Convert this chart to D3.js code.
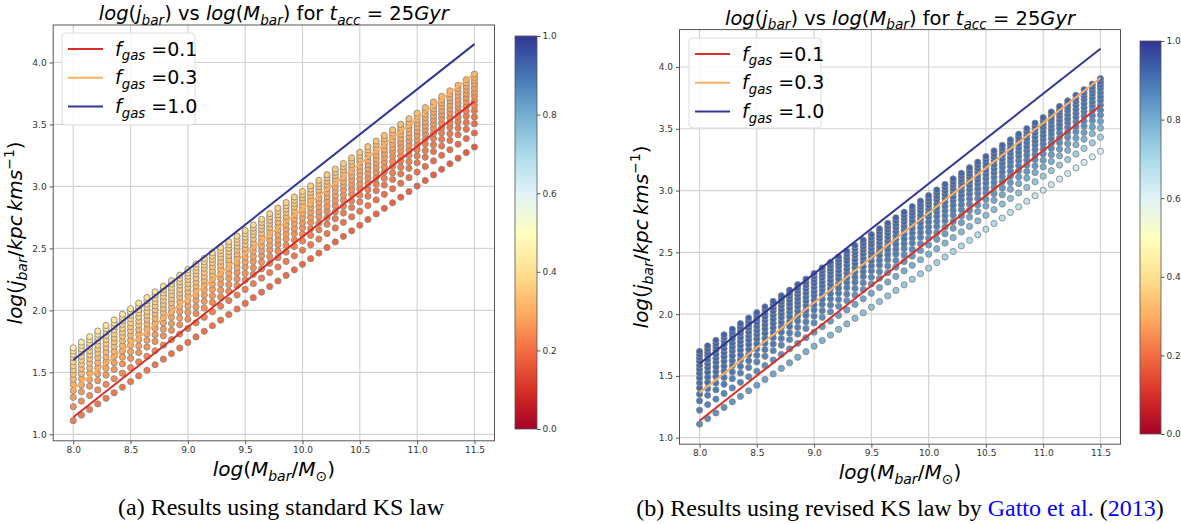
<!DOCTYPE html>
<html>
<head>
<meta charset="utf-8">
<script src="https://cdn.jsdelivr.net/npm/d3@7"></script>
<style>
  body { margin: 0; background: #fff; }
  text { white-space: pre; }
</style>
</head>
<body>
<div id="chart"></div>
<script>
const svgWidth = 1181;
const svgHeight = 524;

// column positions, log(M_bar)
const xCols = [8.000, 8.071, 8.143, 8.214, 8.286, 8.357, 8.429, 8.500, 8.571, 8.643,
               8.714, 8.786, 8.857, 8.929, 9.000, 9.071, 9.143, 9.214, 9.286, 9.357,
               9.429, 9.500, 9.571, 9.643, 9.714, 9.786, 9.857, 9.929, 10.000, 10.071,
               10.143, 10.214, 10.286, 10.357, 10.429, 10.500, 10.571, 10.643, 10.714, 10.786,
               10.857, 10.929, 11.000, 11.071, 11.143, 11.214, 11.286, 11.357, 11.429, 11.500];
// lowest point of each column, log(j_bar)
const colBase = [1.110, 1.155, 1.200, 1.245, 1.290, 1.335, 1.380, 1.425, 1.471, 1.516,
                 1.561, 1.606, 1.651, 1.696, 1.741, 1.786, 1.831, 1.876, 1.921, 1.966,
                 2.011, 2.056, 2.102, 2.147, 2.192, 2.237, 2.282, 2.327, 2.372, 2.417,
                 2.462, 2.507, 2.552, 2.597, 2.642, 2.687, 2.733, 2.778, 2.823, 2.868,
                 2.913, 2.958, 3.003, 3.048, 3.093, 3.138, 3.183, 3.228, 3.273, 3.318];
// rows above the lowest point inside a column
const rowOffsets = [0, 0.113, 0.188, 0.242, 0.293, 0.334, 0.374, 0.411, 0.443, 0.475, 0.508, 0.535, 0.562, 0.588];

// colour value of each row at the first and last column
const colorStartA = [0.22, 0.25, 0.27, 0.29, 0.30, 0.32, 0.33, 0.35, 0.36, 0.37, 0.39, 0.40, 0.41, 0.43];
const colorEndA   = [0.17, 0.19, 0.20, 0.21, 0.22, 0.23, 0.24, 0.25, 0.26, 0.27, 0.28, 0.29, 0.30, 0.31];
const colorStartB = [0.86, 0.88, 0.89, 0.90, 0.91, 0.91, 0.92, 0.92, 0.92, 0.92, 0.93, 0.93, 0.93, 0.93];
const colorEndB   = [0.62, 0.72, 0.78, 0.82, 0.85, 0.87, 0.88, 0.89, 0.90, 0.90, 0.91, 0.91, 0.92, 0.92];

// f_gas reference lines
const lineFgas = ["0.1", "0.3", "1.0"];
const lineCval = [0.1, 0.3, 1.0];
const lineX = [8.0, 11.5];
const lineY = [[1.137, 3.688], [1.365, 3.911], [1.599, 4.148]];

const xTicks = [8.0, 8.5, 9.0, 9.5, 10.0, 10.5, 11.0, 11.5];
const yTicks = [1.0, 1.5, 2.0, 2.5, 3.0, 3.5, 4.0];
const cbTicks = [0.0, 0.2, 0.4, 0.6, 0.8, 1.0];

// matplotlib RdYlBu
const rdylbu = d3.scaleLinear()
    .domain(d3.range(11).map(i => i / 10))
    .range(["#a50026","#d73027","#f46d43","#fdae61","#fee090","#ffffbf",
            "#e0f3f8","#abd9e9","#74add1","#4575b4","#313695"])
    .clamp(true);

const svg = d3.select("#chart").append("svg")
    .attr("width", svgWidth)
    .attr("height", svgHeight)
    .style("font-family", "DejaVu Sans");

// text with italic / subscript / superscript pieces
function mathText(g, parts, size) {
    const t = g.append("text").attr("font-size", size).attr("fill", "#000");
    let shift = 0;
    parts.forEach(([s, kind]) => {
        const ts = t.append("tspan").text(s);
        const target = kind === "sub" || kind === "subr" ? size * 0.25 : kind === "sup" ? -size * 0.42 : 0;
        if (target !== shift) ts.attr("dy", target - shift);
        shift = target;
        if (kind === "sub" || kind === "sup" || kind === "subr") ts.attr("font-size", size * 0.7);
        ts.attr("font-style", (kind === "i" || kind === "sub") ? "oblique" : "normal");
    });
    return t;
}

function drawPanel(p) {
    const x = d3.scaleLinear().domain([7.825, 11.675]).range([p.left, p.right]);
    const y = d3.scaleLinear().domain([0.9475, 4.3025]).range([p.bottom, p.top]);
    const g = svg.append("g");

    // grid
    g.append("g").selectAll("line").data(xTicks).enter().append("line")
        .attr("x1", d => x(d)).attr("x2", d => x(d))
        .attr("y1", p.top).attr("y2", p.bottom)
        .attr("stroke", "#d4d4d4").attr("stroke-width", 1.2);
    g.append("g").selectAll("line").data(yTicks).enter().append("line")
        .attr("y1", d => y(d)).attr("y2", d => y(d))
        .attr("x1", p.left).attr("x2", p.right)
        .attr("stroke", "#d4d4d4").attr("stroke-width", 1.2);

    // points
    const pts = [];
    rowOffsets.forEach((off, k) => {
        const cs = d3.scaleLinear().domain([xCols[0], xCols[xCols.length - 1]])
            .range([p.colorStart[k], p.colorEnd[k]]);
        xCols.forEach((xv, i) => pts.push({ x: xv, y: colBase[i] + off, c: cs(xv) }));
    });
    g.append("g").selectAll("circle").data(pts).enter().append("circle")
        .attr("cx", d => x(d.x)).attr("cy", d => y(d.y))
        .attr("r", 3.1)
        .attr("fill", d => rdylbu(d.c))
        .attr("stroke", "#8a8a8a").attr("stroke-width", 0.9);

    // lines
    const line = d3.line().x(d => x(d[0])).y(d => y(d[1]));
    lineY.forEach((ys, k) => {
        g.append("path").datum(lineX.map((xv, j) => [xv, ys[j]]))
            .attr("d", line).attr("fill", "none")
            .attr("stroke", rdylbu(lineCval[k])).attr("stroke-width", 2);
    });

    // frame
    g.append("rect").attr("x", p.left).attr("y", p.top)
        .attr("width", p.right - p.left).attr("height", p.bottom - p.top)
        .attr("fill", "none").attr("stroke", "#555").attr("stroke-width", 1);

    // axes
    const xAxis = g.append("g").attr("transform", `translate(0,${p.bottom})`)
        .call(d3.axisBottom(x).tickValues(xTicks).tickFormat(d3.format(".1f")).tickSize(3.5).tickPadding(2));
    const yAxis = g.append("g").attr("transform", `translate(${p.left},0)`)
        .call(d3.axisLeft(y).tickValues(yTicks).tickFormat(d3.format(".1f")).tickSize(3.5).tickPadding(3));
    [xAxis, yAxis].forEach(a => {
        a.select(".domain").remove();
        a.selectAll("line").attr("stroke", "#555");
        a.selectAll("text").attr("font-family", "DejaVu Sans").attr("font-size", 9).attr("fill", "#333");
    });

    // legend
    const lg = g.append("g");
    lg.append("rect").attr("x", p.leg[0]).attr("y", p.leg[1])
        .attr("width", p.leg[2]).attr("height", p.leg[3]).attr("rx", 4)
        .attr("fill", "#fff").attr("fill-opacity", 0.85)
        .attr("stroke", "#dcdcdc").attr("stroke-width", 1);
    lineFgas.forEach((lab, k) => {
        const ly = p.leg[1] + 16 + k * 28.7;
        lg.append("line").attr("x1", p.leg[0] + 6).attr("x2", p.leg[0] + 41)
            .attr("y1", ly).attr("y2", ly)
            .attr("stroke", rdylbu(lineCval[k])).attr("stroke-width", 2);
        mathText(lg, [["f", "i"], ["gas", "sub"], [" =" + lab, "r"]], 19)
            .attr("x", p.leg[0] + 53).attr("y", ly + 6.5);
    });

    // title
    mathText(g, [["log", "i"], ["(", "r"], ["j", "i"], ["bar", "sub"], [")", "r"], [" vs ", "r"],
                 ["log", "i"], ["(", "r"], ["M", "i"], ["bar", "sub"], [")", "r"], [" for ", "r"],
                 ["t", "i"], ["acc", "sub"], [" = 25", "r"], ["Gyr", "i"]], 19.5)
        .attr("x", (p.left + p.right) / 2).attr("y", p.top - 5).attr("text-anchor", "middle");

    // axis labels
    mathText(g, [["log", "i"], ["(", "r"], ["M", "i"], ["bar", "sub"], ["/", "r"], ["M", "i"], ["\u2299", "subr"], [")", "r"]], 20)
        .attr("x", (p.left + p.right) / 2).attr("y", p.bottom + 35).attr("text-anchor", "middle");
    mathText(g, [["log", "i"], ["(", "r"], ["j", "i"], ["bar", "sub"], ["/", "r"], ["kpc", "i"], ["\u2009", "r"],
                 ["kms", "i"], ["\u22121", "sup"], [")", "r"]], 20)
        .attr("text-anchor", "middle")
        .attr("transform", `translate(${p.ylabX},${(p.top + p.bottom) / 2}) rotate(-90)`);

    // colorbar
    const cb = g.append("g");
    const gradId = "grad" + p.id;
    const grad = svg.append("defs").append("linearGradient").attr("id", gradId)
        .attr("x1", 0).attr("y1", 1).attr("x2", 0).attr("y2", 0);
    d3.range(0, 1.0001, 0.05).forEach(v => {
        grad.append("stop").attr("offset", v).attr("stop-color", rdylbu(v));
    });
    cb.append("rect").attr("x", p.cb[0]).attr("y", p.cb[1])
        .attr("width", p.cb[2]).attr("height", p.cb[3] - p.cb[1])
        .attr("fill", `url(#${gradId})`).attr("stroke", "#555").attr("stroke-width", 0.8);
    const cy = d3.scaleLinear().domain([0, 1]).range([p.cb[3], p.cb[1]]);
    const cbAxis = cb.append("g").attr("transform", `translate(${p.cb[0] + p.cb[2]},0)`)
        .call(d3.axisRight(cy).tickValues(cbTicks).tickFormat(d3.format(".1f")).tickSize(3.5).tickPadding(2));
    cbAxis.select(".domain").remove();
    cbAxis.selectAll("line").attr("stroke", "#555");
    cbAxis.selectAll("text").attr("font-family", "DejaVu Sans").attr("font-size", 9).attr("fill", "#333");
}

drawPanel({ id: "a", left: 53.2, right: 494.5, top: 25, bottom: 440.8,
            colorStart: colorStartA, colorEnd: colorEndA,
            leg: [62, 33, 133, 92], cb: [515, 36, 22, 429], ylabX: 22 });
drawPanel({ id: "b", left: 679.5, right: 1120.5, top: 29.6, bottom: 444.2,
            colorStart: colorStartB, colorEnd: colorEndB,
            leg: [689, 38, 132, 90], cb: [1140, 41, 21, 434], ylabX: 648 });

// captions
const cap = svg.append("g").style("font-family", "Liberation Serif").attr("font-size", 24);
cap.append("text").attr("x", 281).attr("y", 515).attr("text-anchor", "middle")
    .text("(a) Results using standard KS law");
const capB = cap.append("text").attr("x", 900).attr("y", 516).attr("text-anchor", "middle");
capB.append("tspan").text("(b) Results using revised KS law by ");
capB.append("tspan").attr("fill", "#0000ff").text("Gatto et al.");
capB.append("tspan").text(" (");
capB.append("tspan").attr("fill", "#0000ff").text("2013");
capB.append("tspan").text(")");
</script>
</body>
</html>
